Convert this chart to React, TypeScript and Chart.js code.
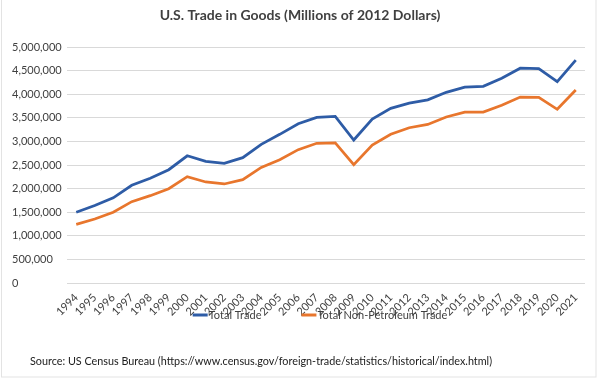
import React, { useEffect, useRef } from "react";
import { Chart, registerables } from "chart.js";

Chart.register(...registerables);

const years = [
  "1994", "1995", "1996", "1997", "1998", "1999", "2000", "2001", "2002", "2003",
  "2004", "2005", "2006", "2007", "2008", "2009", "2010", "2011", "2012", "2013",
  "2014", "2015", "2016", "2017", "2018", "2019", "2020", "2021",
];

const totalTrade = [
  1500000, 1640000, 1805000, 2070000, 2220000, 2400000, 2695000, 2578000, 2536000, 2655000,
  2938000, 3150000, 3375000, 3510000, 3530000, 3030000, 3475000, 3700000, 3810000, 3880000,
  4040000, 4150000, 4167000, 4340000, 4550000, 4540000, 4265000, 4720000,
];

const nonPetroleumTrade = [
  1243000, 1356000, 1498000, 1723000, 1850000, 1998000, 2253000, 2140000, 2098000, 2190000,
  2450000, 2610000, 2825000, 2960000, 2970000, 2507000, 2924000, 3150000, 3290000, 3360000,
  3517000, 3620000, 3620000, 3765000, 3940000, 3935000, 3680000, 4090000,
];

const seriesNames = ["Total Trade", "Total Non-Petroleum Trade"];
const seriesColors = ["#2E5CA6", "#E8762D"];

const titleText = "U.S. Trade in Goods (Millions of 2012 Dollars)";
const sourceText =
  "Source: US Census Bureau (https://www.census.gov/foreign-trade/statistics/historical/index.html)";

const yMin = 0;
const yMax = 5000000;
const yStep = 500000;

const FONT = "Lato, 'Open Sans', sans-serif";
const TEXT_COLOR = "#404040";

const overlayPlugin = {
  id: "overlay",
  beforeDraw(chart: any) {
    const { ctx, width, height } = chart;
    ctx.save();
    ctx.fillStyle = "#ffffff";
    ctx.fillRect(0, 0, width, height);
    ctx.strokeStyle = "#e3e3e3";
    ctx.lineWidth = 1;
    ctx.strokeRect(1.5, -1, 594.5, 378);
    ctx.restore();
  },
  afterDraw(chart: any) {
    const { ctx } = chart;
    ctx.save();
    // title
    ctx.fillStyle = TEXT_COLOR;
    ctx.font = `bold 14px ${FONT}`;
    ctx.textAlign = "center";
    ctx.textBaseline = "middle";
    ctx.fillText(titleText, 300, 15);

    // legend
    ctx.font = `11px ${FONT}`;
    ctx.textAlign = "left";
    const swatch = 15;
    const gap = 40;
    const ds = chart.data.datasets;
    const widths = ds.map((d: any) => swatch + 1 + ctx.measureText(d.label).width);
    const total = widths.reduce((a: number, b: number) => a + b, 0) + gap * (ds.length - 1);
    let x = 320 - total / 2;
    const y = 315;
    ds.forEach((d: any, i: number) => {
      ctx.strokeStyle = d.borderColor;
      ctx.lineWidth = 3;
      ctx.beginPath();
      ctx.moveTo(x, y);
      ctx.lineTo(x + swatch, y);
      ctx.stroke();
      ctx.fillStyle = TEXT_COLOR;
      ctx.fillText(d.label, x + swatch + 1, y);
      x += widths[i] + gap;
    });

    // source
    ctx.font = `10.8px ${FONT}`;
    ctx.fillStyle = "#202020";
    ctx.fillText(sourceText, 30, 362);
    ctx.restore();
  },
};

export default function App() {
  const ref = useRef<HTMLCanvasElement | null>(null);

  useEffect(() => {
    if (!ref.current) return;
    const chart = new Chart(ref.current, {
      type: "line",
      data: {
        labels: years,
        datasets: [
          {
            label: seriesNames[0],
            data: totalTrade,
            borderColor: seriesColors[0],
            backgroundColor: seriesColors[0],
            borderWidth: 2.75,
            pointRadius: 0,
            tension: 0,
          },
          {
            label: seriesNames[1],
            data: nonPetroleumTrade,
            borderColor: seriesColors[1],
            backgroundColor: seriesColors[1],
            borderWidth: 2.75,
            pointRadius: 0,
            tension: 0,
          },
        ],
      },
      options: {
        responsive: false,
        animation: false,
        devicePixelRatio: 1,
        layout: { padding: { left: 12, right: 15, top: 47, bottom: 0 } },
        plugins: {
          legend: { display: false },
          title: { display: false },
          tooltip: { enabled: false },
        },
        scales: {
          x: {
            offset: true,
            grid: { display: false, drawTicks: false },
            border: { display: false },
            ticks: {
              autoSkip: false,
              maxRotation: 45,
              minRotation: 45,
              padding: 8,
              color: TEXT_COLOR,
              font: { family: FONT, size: 11 },
            },
            afterFit(scale: any) {
              scale.height = 97;
            },
          },
          y: {
            min: yMin,
            max: yMax,
            grid: { color: "#d9d9d9", drawTicks: false, lineWidth: 1 },
            border: { display: false },
            ticks: {
              stepSize: yStep,
              crossAlign: "far",
              color: TEXT_COLOR,
              font: { family: FONT, size: 11 },
              callback: (v: any) => Number(v).toLocaleString("en-US"),
            },
            afterFit(scale: any) {
              scale.width = 55;
            },
          },
        },
      },
      plugins: [overlayPlugin],
    });
    return () => chart.destroy();
  }, []);

  return (
    <div style={{ position: "fixed", left: 0, top: 0, width: 600, height: 380, background: "#fff" }}>
      <canvas ref={ref} width={600} height={380} />
    </div>
  );
}
